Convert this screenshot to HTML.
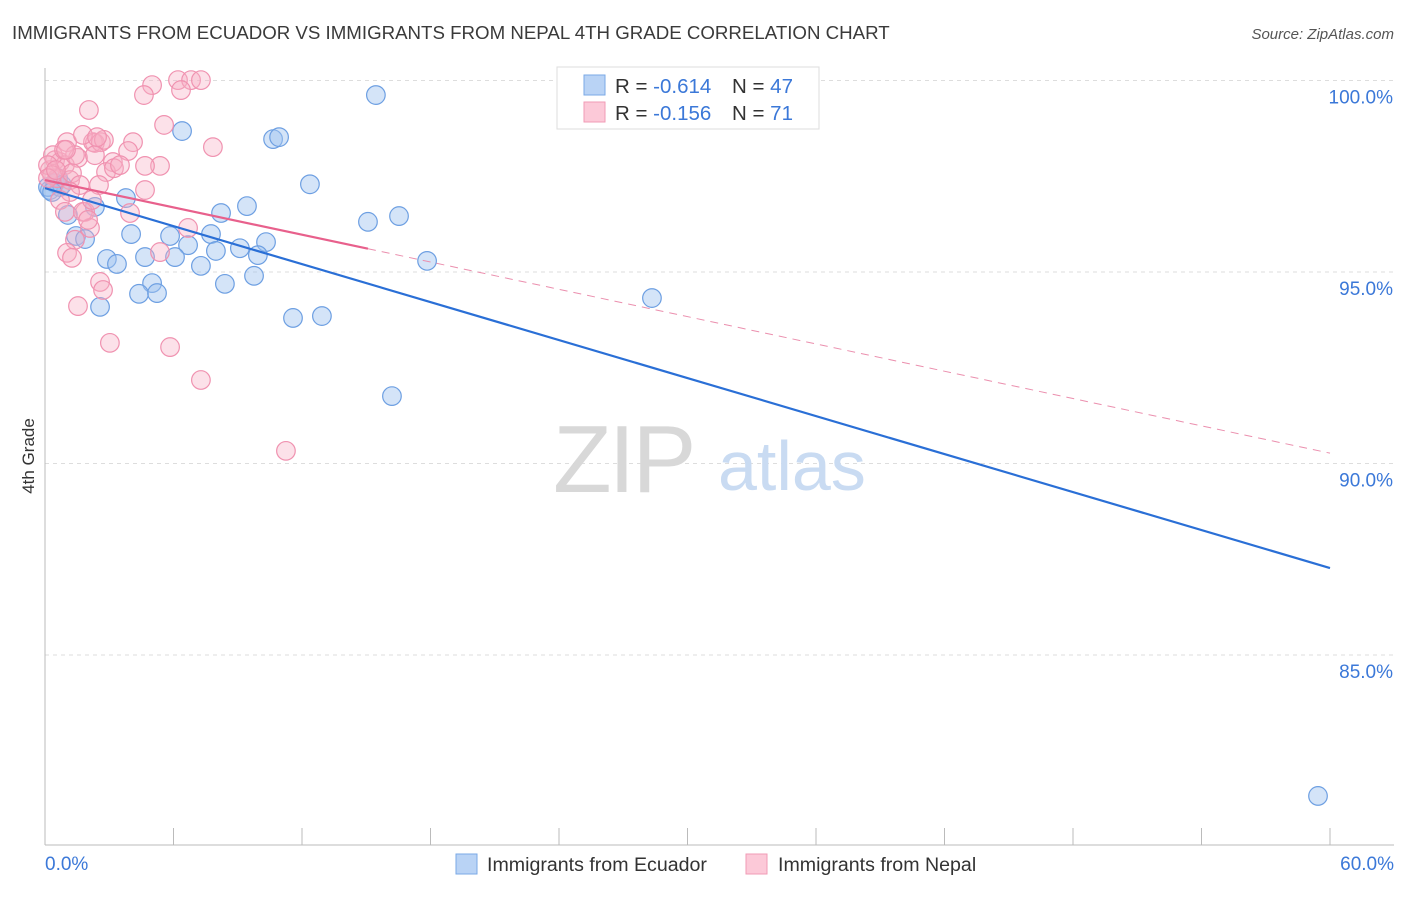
<!DOCTYPE html>
<html><head><meta charset="utf-8"><style>
body{margin:0;background:#fff;font-family:"Liberation Sans",sans-serif;}
svg text{font-family:"Liberation Sans",sans-serif;}
</style></head><body>
<svg id="chart" width="1406" height="892" viewBox="0 0 1406 892" xmlns="http://www.w3.org/2000/svg">
<text x="12" y="39" font-size="18.7" fill="#3a3a3a">IMMIGRANTS FROM ECUADOR VS IMMIGRANTS FROM NEPAL 4TH GRADE CORRELATION CHART</text>
<text x="1394" y="39" font-size="15" fill="#555" text-anchor="end" font-style="italic">Source: ZipAtlas.com</text>
<g id="grid"></g>
<g>
<text x="553" y="492" font-size="96" fill="#d8d8d8" font-family="Liberation Serif" letter-spacing="-3">ZIP</text>
<text x="718" y="490" font-size="70" fill="#c9dbf2">atlas</text>
</g>
<g id="marks"></g>
<text transform="translate(34,456) rotate(-90)" font-size="17" fill="#333" text-anchor="middle">4th Grade</text>
<g>
<rect x="557" y="67" width="262" height="62" fill="#fff" stroke="#ddd"/>
<rect x="584" y="75" width="21" height="20" fill="#b9d3f5" stroke="#7aa8e6"/>
<rect x="584" y="102" width="21" height="20" fill="#fcc9d8" stroke="#f19bb6"/>
<text x="615" y="93" font-size="20.5" fill="#333">R = <tspan fill="#3b78d8">-0.614</tspan></text>
<text x="732" y="93" font-size="20.5" fill="#333">N = <tspan fill="#3b78d8">47</tspan></text>
<text x="615" y="120" font-size="20.5" fill="#333">R = <tspan fill="#3b78d8">-0.156</tspan></text>
<text x="732" y="120" font-size="20.5" fill="#333">N = <tspan fill="#3b78d8"> 71</tspan></text>
</g>
<g>
<rect x="456" y="854" width="21" height="20" fill="#b9d3f5" stroke="#7aa8e6"/>
<text x="487" y="871" font-size="19.6" fill="#333">Immigrants from Ecuador</text>
<rect x="746" y="854" width="21" height="20" fill="#fcc9d8" stroke="#f19bb6"/>
<text x="778" y="871" font-size="19.6" fill="#333">Immigrants from Nepal</text>
</g>
</svg>
<script>
const xTicks=[0,6,12,18,24,30,36,42,48,54,60];
const yTicks=[85,90,95,100];
const ecuadorX=[15.45,6.40,10.65,10.93,12.37,3.78,2.33,1.07,9.43,8.22,15.08,16.53,4.02,5.84,7.75,1.45,1.87,6.68,9.10,10.32,4.67,6.07,7.98,9.94,2.89,3.36,7.28,17.84,5.00,4.39,5.23,8.40,9.76,2.57,11.58,12.93,28.34,16.20,59.44,0.23,0.47,0.70,0.14,0.61,0.79,26.47,0.33];
const ecuadorY=[99.62,98.68,98.47,98.52,97.29,96.93,96.70,96.49,96.72,96.54,96.31,96.46,95.99,95.94,95.99,95.94,95.86,95.70,95.62,95.78,95.39,95.39,95.55,95.44,95.34,95.21,95.16,95.29,94.71,94.43,94.45,94.69,94.90,94.09,93.80,93.85,94.32,91.76,81.32,97.14,97.32,97.22,97.22,97.45,97.27,99.62,97.09];
const nepalX=[6.21,6.82,7.28,5.00,4.62,6.35,2.05,5.56,7.84,4.11,2.33,1.03,2.24,2.61,1.77,2.75,3.17,3.88,5.37,4.67,2.85,2.52,4.67,0.47,0.70,0.93,0.23,0.56,1.17,1.54,1.26,1.63,1.17,0.70,0.93,1.87,3.97,6.68,2.10,1.40,5.37,1.03,1.26,2.57,2.71,1.54,3.03,5.84,7.28,11.25,0.37,0.14,0.33,1.40,2.33,3.22,1.77,2.01,0.89,0.14,0.51,2.43,3.50,2.19,0.98];
const nepalY=[100.01,100.01,100.01,99.88,99.62,99.75,99.23,98.84,98.26,98.39,98.37,98.39,98.39,98.39,98.58,98.45,97.87,98.16,97.77,97.77,97.61,97.27,97.14,97.92,97.87,97.79,97.66,97.45,97.40,97.98,97.58,97.27,97.09,96.88,96.57,96.57,96.54,96.15,96.15,95.84,95.52,95.50,95.37,94.74,94.53,94.11,93.15,93.04,92.18,90.33,98.05,97.79,97.53,98.05,98.05,97.71,96.57,96.36,98.19,97.45,97.66,98.52,97.79,96.88,98.19];
const ecuadorTrend=[97.19,87.27];
const nepalTrend=[97.40,90.27];
const nepalSolidEnd=15.08;

const NS="http://www.w3.org/2000/svg";
function sx(v){return 45+v/60*1285;}
function sy(v){return 80.5+(100-v)*38.3;}
function el(tag,attrs,parent){const e=document.createElementNS(NS,tag);for(const k in attrs)e.setAttribute(k,attrs[k]);parent.appendChild(e);return e;}
const grid=document.getElementById('grid');
const marks=document.getElementById('marks');
yTicks.forEach(t=>{
  const l=el('line',{x1:45,x2:1394,y1:sy(t),y2:sy(t),stroke:'#ddd','stroke-dasharray':'4,4'},grid);
  
  
  const tx=el('text',{x:1393,y:sy(t)+23,'font-size':19,fill:'#3b78d8','text-anchor':'end'},grid);
  tx.textContent=t.toFixed(1)+'%';
  
  
});
const ax=el('line',{x1:45,x2:45,y1:68,y2:845,stroke:'#bbb'},grid);


const bx=el('line',{x1:45,x2:1394,y1:845,y2:845,stroke:'#bbb'},grid);


xTicks.forEach(t=>{
  const l=el('line',{x1:sx(t),x2:sx(t),y1:828,y2:845,stroke:'#bbb'},grid);
  
  
});
[[0,'start',45],[60,'end',1394]].forEach(([t,a,x])=>{
  const tx=el('text',{x:x,y:870,'font-size':19,fill:'#3b78d8','text-anchor':a},grid);
  tx.textContent=t.toFixed(1)+'%';
  
  
});
ecuadorX.forEach((x,i)=>{
  const c=el('circle',{cx:sx(x),cy:sy(ecuadorY[i]),r:9.3,fill:'rgba(160,195,240,0.45)',stroke:'#6d9fe2','stroke-width':1.2},marks);
  
  
});
nepalX.forEach((x,i)=>{
  const c=el('circle',{cx:sx(x),cy:sy(nepalY[i]),r:9.3,fill:'rgba(246,175,198,0.38)',stroke:'#f092b0','stroke-width':1.2},marks);
  
  
});
function ty(tr,x){return tr[0]+(tr[1]-tr[0])*x/60;}
const bl=el('line',{x1:sx(0),y1:sy(ty(ecuadorTrend,0)),x2:sx(60),y2:sy(ty(ecuadorTrend,60)),stroke:'#2a6fd6','stroke-width':2.2},marks);


const pl=el('line',{x1:sx(0),y1:sy(ty(nepalTrend,0)),x2:sx(nepalSolidEnd),y2:sy(ty(nepalTrend,nepalSolidEnd)),stroke:'#e8608c','stroke-width':2.2},marks);


const pd=el('line',{x1:sx(nepalSolidEnd),y1:sy(ty(nepalTrend,nepalSolidEnd)),x2:sx(60),y2:sy(ty(nepalTrend,60)),stroke:'#eb8fae','stroke-width':1,'stroke-dasharray':'8,6'},marks);


</script>
</body></html>
